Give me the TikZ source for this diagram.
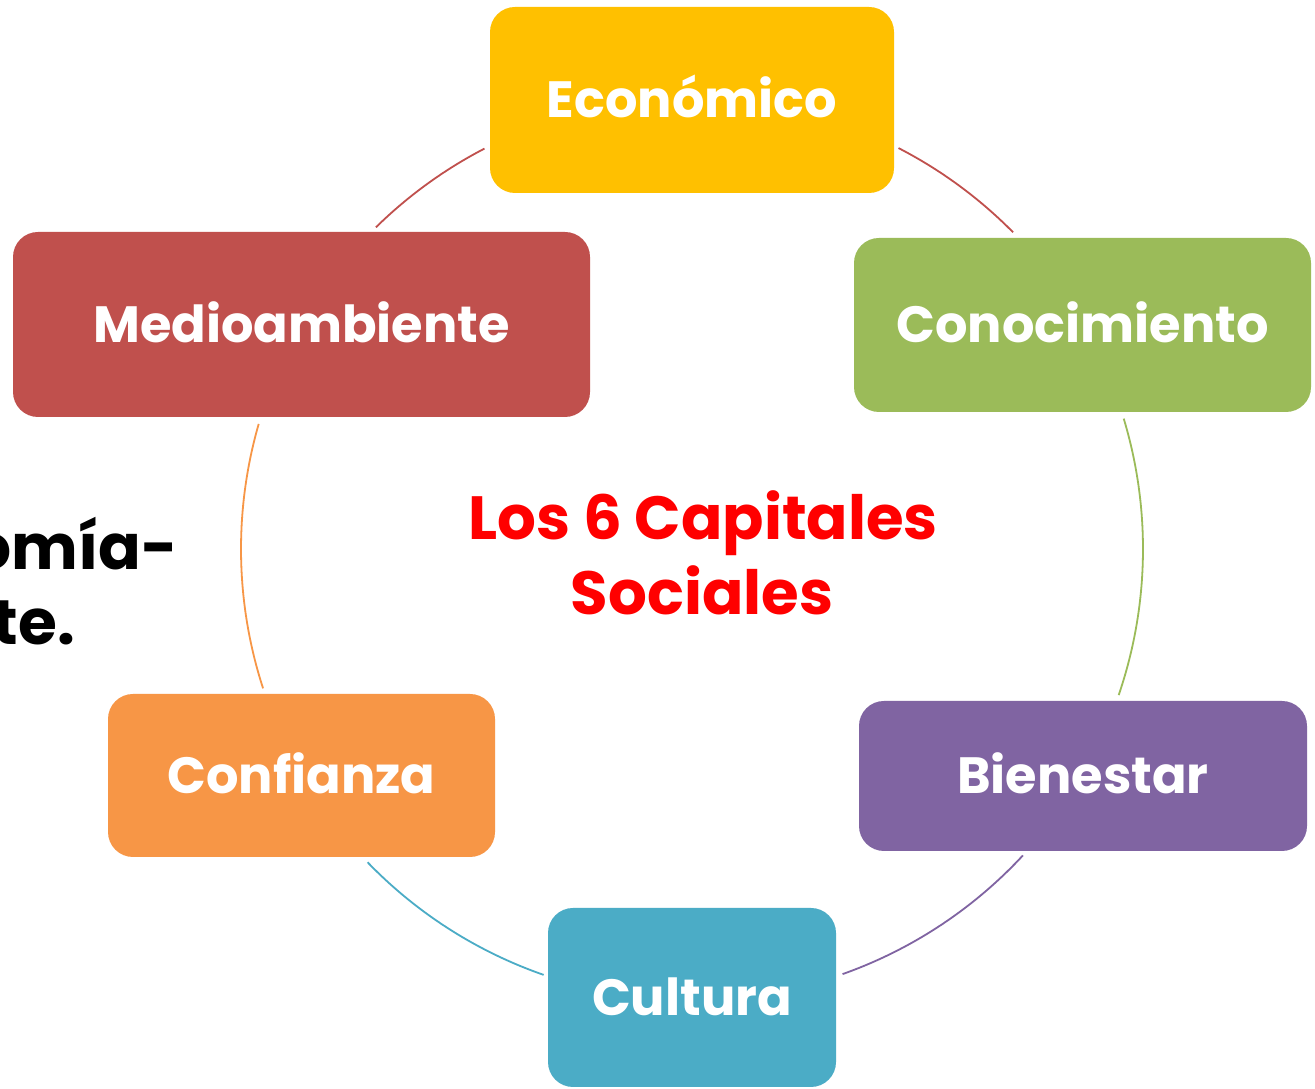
\documentclass[tikz,border=0pt]{standalone}
\usepackage{fontspec}
\setmainfont{Poppins}
\usetikzlibrary{calc}
\definecolor{cRed}{HTML}{C0504D}
\definecolor{cGreen}{HTML}{9BBB59}
\definecolor{cPurple}{HTML}{8064A2}
\definecolor{cTeal}{HTML}{4BACC6}
\definecolor{cOrange}{HTML}{F79646}
\definecolor{cGold}{HTML}{FFC000}
\definecolor{cTitle}{HTML}{FF0000}
\tikzset{
  capbox/.style={rounded corners=25pt, inner sep=0pt, text=white,
    font=\fontsize{51}{58}\selectfont\bfseries, text height=36pt, text depth=0pt},
  ring/.style={line width=1.8pt},
  titletext/.style={text=cTitle, font=\fontsize{61}{70}\selectfont\bfseries, inner sep=0pt, anchor=base},
  sidetext/.style={text=black, font=\fontsize{63}{70}\selectfont\bfseries, inner sep=0pt, anchor=base east}
}
\begin{document}
\begin{tikzpicture}[x=1pt,y=1pt]
\clip (0,0) rectangle (1315,1089);
\fill[white] (0,0) rectangle (1315,1089);
\coordinate (C) at (692,540);
% side text
\node[sidetext] (s1) at (178,519) {omía-};
\node[sidetext] (s2) at (75,444) {te.};
% arcs
\coordinate (a1) at ($(C)+(62.75:451)$);
\coordinate (a2) at ($(C)+(16.8:451)$);
\coordinate (a3) at ($(C)+(-42.8:451)$);
\coordinate (a4) at ($(C)+(250.8:451)$);
\coordinate (a5) at ($(C)+(198:451)$);
\coordinate (a6) at ($(C)+(134.5:451)$);
\draw[ring, cRed] (a1) arc[start angle=62.75, end angle=44.6, radius=451];
\draw[ring, cGreen] (a2) arc[start angle=16.8, end angle=-18.9, radius=451];
\draw[ring, cPurple] (a3) arc[start angle=-42.8, end angle=-70.5, radius=451];
\draw[ring, cTeal] (a4) arc[start angle=250.8, end angle=224, radius=451];
\draw[ring, cOrange] (a5) arc[start angle=198, end angle=163.9, radius=451];
\draw[ring, cRed] (a6) arc[start angle=134.5, end angle=117.4, radius=451];
% boxes
\node[capbox, fill=cGold, minimum width=404pt, minimum height=186pt] (eco) at (692,989) {Económico};
\node[capbox, fill=cGreen, minimum width=457pt, minimum height=174pt] (con) at (1082.5,764) {Conocimiento};
\node[capbox, fill=cPurple, minimum width=448pt, minimum height=150pt] (bie) at (1083,313) {Bienestar};
\node[capbox, fill=cTeal, minimum width=288pt, minimum height=179pt] (cul) at (692,91.5) {Cultura};
\node[capbox, fill=cOrange, minimum width=387pt, minimum height=163pt] (cof) at (301.5,313.5) {Confianza};
\node[capbox, fill=cRed, minimum width=577pt, minimum height=185pt] (med) at (301.5,764.5) {Medioambiente};
% title
\node[titletext] (t1) at (703,549) {Los 6 Capitales};
\node[titletext] (t2) at (702,474) {Sociales};
\end{tikzpicture}
\end{document}
